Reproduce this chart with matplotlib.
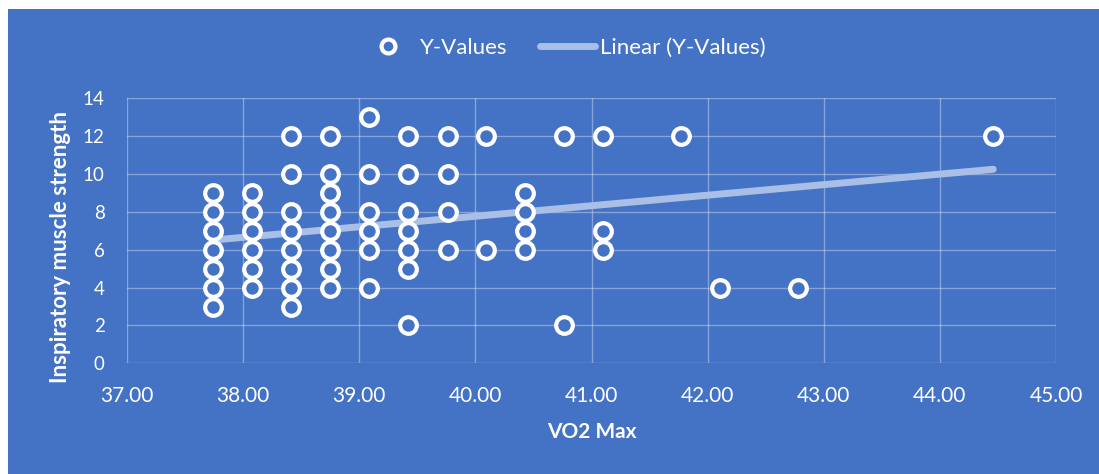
import numpy as np
import matplotlib
matplotlib.use('Agg')
import matplotlib.pyplot as plt
from matplotlib.lines import Line2D
from matplotlib.patches import Rectangle

# VO2 max values, one list per column of points
vo2_cols = [37.74, 38.08, 38.41, 38.75, 39.08, 39.42, 39.76, 40.09,
            40.43, 40.76, 41.10, 41.77, 42.11, 42.78, 44.46]
strength_cols = [
    [3, 4, 5, 6, 7, 8, 9],
    [4, 5, 6, 7, 8, 9],
    [3, 4, 5, 6, 7, 8, 10, 12],
    [4, 5, 6, 7, 8, 9, 10, 12],
    [4, 6, 7, 8, 10, 13],
    [2, 5, 6, 7, 8, 10, 12],
    [6, 8, 10, 12],
    [6, 12],
    [6, 7, 8, 9],
    [2, 12],
    [6, 7, 12],
    [12],
    [4],
    [4],
    [12],
]

# linear trendline
trend_x = [37.74, 44.46]
trend_y = [6.51, 10.25]

x_ticks = [37, 38, 39, 40, 41, 42, 43, 44, 45]
y_ticks = [0, 2, 4, 6, 8, 10, 12, 14]

BLUE = '#4472C4'
TREND = '#A9BFE6'


def main():
    plt.rcParams['font.family'] = ['Lato', 'DejaVu Sans']

    x = []
    y = []
    for vx, vals in zip(vo2_cols, strength_cols):
        for v in vals:
            x.append(vx)
            y.append(v)

    fig = plt.figure(figsize=(10.99, 4.74), dpi=100)
    fig.patch.set_facecolor('white')
    fig.add_artist(Rectangle((8 / 1099, 0), 1, 1 - 9 / 474, transform=fig.transFigure,
                             facecolor=BLUE, edgecolor='none', zorder=0))

    ax = fig.add_axes([127 / 1099, 1 - 363.3 / 474, (1056 - 127) / 1099, (363.3 - 98.3) / 474])
    ax.set_facecolor(BLUE)
    ax.set_xlim(37, 45)
    ax.set_ylim(0, 14)
    ax.set_xticks(x_ticks)
    ax.set_xticklabels([f"{t:.2f}" for t in x_ticks])
    ax.set_yticks(y_ticks)
    ax.tick_params(length=0, colors='white')
    ax.tick_params(axis='x', labelsize=15, pad=16)
    ax.tick_params(axis='y', labelsize=13.5, pad=16)
    for s in ax.spines.values():
        s.set_visible(False)
    ax.grid(True, color='white', alpha=0.35, lw=1)
    ax.set_axisbelow(True)

    ax.plot(trend_x, trend_y, color=TREND, lw=5, solid_capstyle='round', zorder=2)

    ax.plot(x, y, 'o', ms=12, mfc=BLUE, mec='white', mew=3, ls='none', zorder=3, clip_on=False)

    ax.set_xlabel('VO2 Max', color='white', fontsize=15, fontweight='bold')
    ax.xaxis.set_label_coords(0.5, -0.259)
    ax.xaxis.label.set_va('center')
    ax.set_ylabel('Inspiratory muscle strength', color='white', fontsize=16, fontweight='bold')
    ax.yaxis.set_label_coords(-0.072, 0.44)
    ax.yaxis.label.set_va('center')

    handles = [
        Line2D([], [], marker='o', ms=10, mfc=BLUE, mec='white', mew=3, ls='none'),
        Line2D([], [], color=TREND, lw=5, solid_capstyle='round'),
    ]
    leg = fig.legend(handles, ['Y-Values', 'Linear (Y-Values)'], loc='center',
                     bbox_to_anchor=(0.512, 1 - 48 / 474), ncol=2, frameon=False,
                     fontsize=16, handlelength=2.5, columnspacing=1.45, handletextpad=0.2)
    for t in leg.get_texts():
        t.set_color('white')

    fig.savefig('out.png', dpi=100, facecolor=fig.get_facecolor())


if __name__ == '__main__':
    main()
